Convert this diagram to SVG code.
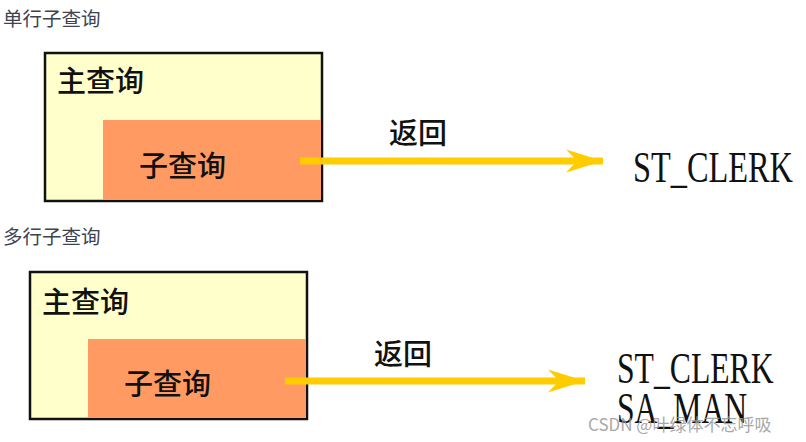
<svg xmlns="http://www.w3.org/2000/svg" width="806" height="442" viewBox="0 0 806 442">
<defs>
<style>
.title{font-family:"Noto Sans CJK SC","Noto Sans",sans-serif;font-size:19.5px;fill:#3d4450}
.outer{fill:#ffffcc;stroke:#111;stroke-width:2.5}
.inner{fill:#ff9a62}
.cn{font-family:"Noto Sans CJK SC",sans-serif;font-size:29px;font-weight:500;fill:#111}
.res{font-family:"Liberation Serif","Noto Serif",serif;font-size:44px;fill:#111}
.arrow{stroke:#ffcc00;stroke-width:7;fill:none}
.wm{font-family:"Noto Sans CJK SC","Noto Sans",sans-serif;font-size:17px;fill:#999;opacity:0.85}
</style>
<marker id="ah" viewBox="0 0 10 10" refX="10" refY="5" markerWidth="5.3" markerHeight="3.3" markerUnits="strokeWidth" orient="auto" preserveAspectRatio="none">
<path d="M0,0 L10,5 L0,10 L3,5 Z" fill="#ffcc00"/>
</marker>
</defs>
<rect width="806" height="442" fill="#fff"/>
<text class="title" x="3" y="26">单行子查询</text>
<g id="main1">
<rect class="outer" x="45" y="53" width="277" height="148"/>
<text class="cn" x="57" y="92">主查询</text>
</g>
<g id="sub1">
<rect class="inner" x="103" y="120" width="218" height="80"/>
<text class="cn" x="139" y="177">子查询</text>
</g>
<g id="res1">
<text class="res" transform="translate(633,182) scale(0.735,1)">ST_CLERK</text>
</g>
<text class="title" x="3" y="244">多行子查询</text>
<g id="main2">
<rect class="outer" x="30" y="272" width="277" height="147"/>
<text class="cn" x="42" y="313">主查询</text>
</g>
<g id="sub2">
<rect class="inner" x="88" y="339" width="218" height="79"/>
<text class="cn" x="124" y="395">子查询</text>
</g>
<g id="res2">
<text class="res" transform="translate(617,383) scale(0.72,1)">ST_CLERK</text>
<text class="res" transform="translate(617,423) scale(0.72,1)">SA_MAN</text>
</g>
<g id="connectors">
<line class="arrow" x1="300" y1="161" x2="603" y2="161" marker-end="url(#ah)"/>
<text class="cn" x="389" y="144" font-size="28">返回</text>
<line class="arrow" x1="285" y1="381" x2="585" y2="381" marker-end="url(#ah)"/>
<text class="cn" x="374" y="365" font-size="28">返回</text>
</g>
<text class="wm" x="588" y="431">CSDN @叶绿体不忘呼吸</text>
</svg>
